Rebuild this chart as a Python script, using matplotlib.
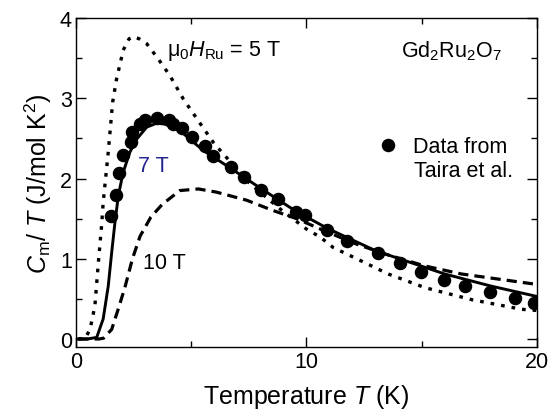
import numpy as np
import matplotlib
matplotlib.use("Agg")
import matplotlib.pyplot as plt
from matplotlib.ticker import MultipleLocator

plt.rcParams["font.family"] = ["Liberation Sans", "DejaVu Sans"]
plt.rcParams["mathtext.fontset"] = "custom"
plt.rcParams["mathtext.rm"] = "Liberation Sans"
plt.rcParams["mathtext.it"] = "Liberation Sans:italic"
plt.rcParams["mathtext.bf"] = "Liberation Sans:bold"

# donnees de Taira et al.
T_data = [1.50, 1.72, 1.86, 2.05, 2.38, 2.42, 2.76, 2.99, 3.50, 4.03, 4.22,
          4.61, 5.02, 5.60, 5.96, 6.72, 7.29, 8.04, 8.78, 9.55, 9.93, 10.88,
          11.74, 13.09, 14.06, 14.97, 15.97, 16.88, 17.96, 19.05, 19.88]
Cm_data = [1.53, 1.80, 2.07, 2.29, 2.45, 2.58, 2.68, 2.73, 2.75, 2.73, 2.68,
           2.63, 2.52, 2.41, 2.28, 2.14, 2.02, 1.86, 1.74, 1.58, 1.54, 1.36,
           1.22, 1.07, 0.95, 0.84, 0.74, 0.66, 0.58, 0.515, 0.45]

# calcul, mu0 H_Ru = 5 T (pointilles)
T_5 = [0.1, 0.4, 0.61, 0.82, 0.97, 1.11, 1.18, 1.40, 1.59, 1.76, 2.05, 2.30,
       2.49, 2.75, 3.07, 3.57, 4.08, 4.66, 5.45, 5.96, 6.32, 7.5, 8.9, 10.0,
       10.6, 11.16, 12.54, 13.55, 15.14, 17.17, 19.34, 20.0]
Cm_5 = [0.0, 0.01, 0.12, 0.41, 0.95, 1.41, 1.70, 2.33, 2.95, 3.24, 3.60, 3.74,
        3.77, 3.74, 3.68, 3.49, 3.28, 2.99, 2.66, 2.45, 2.33, 1.95, 1.61, 1.37,
        1.27, 1.14, 0.95, 0.81, 0.64, 0.49, 0.37, 0.355]

# calcul, 7 T (trait plein)
T_7 = [0.1, 0.5, 0.9, 1.18, 1.40, 1.55, 1.69, 1.84, 2.05, 2.34, 2.63, 3.07,
       3.50, 4.08, 4.66, 5.52, 6.7, 8.0, 9.5, 10.9, 13.0, 16.0, 18.0, 20.0]
Cm_7 = [0.0, 0.0, 0.02, 0.25, 0.66, 1.08, 1.45, 1.79, 2.08, 2.33, 2.49, 2.64,
        2.69, 2.67, 2.56, 2.35, 2.13, 1.88, 1.60, 1.38, 1.10, 0.81, 0.66, 0.53]

# calcul, 10 T (tirets)
T_10 = [0.1, 1.0, 1.2, 1.55, 1.83, 2.12, 2.45, 2.78, 3.25, 3.75, 4.51, 5.31,
        6.1, 7.4, 8.56, 9.57, 10.44, 12.1, 13.4, 15.14, 16.73, 20.0]
Cm_10 = [0.0, 0.0, 0.01, 0.12, 0.37, 0.64, 1.0, 1.28, 1.52, 1.68, 1.85, 1.87,
         1.83, 1.73, 1.60, 1.50, 1.39, 1.19, 1.06, 0.91, 0.81, 0.68]

fig = plt.figure(figsize=(5.49, 4.14), dpi=100)
ax = fig.add_axes([0.1384, 0.1594, 0.8396, 0.7946])

ax.plot(T_5, Cm_5, color="k", lw=2.4, linestyle=(0, (1.1, 2.1)), dash_capstyle="butt")
ax.plot(T_7, Cm_7, color="k", lw=2.1)
ax.plot(T_10, Cm_10, color="k", lw=2.3, linestyle=(0, (3.2, 1.9)))
ax.plot(T_data, Cm_data, "o", color="k", ms=8.7, label="Data from")

ax.set_xlim(0, 20)
ax.set_ylim(-0.1, 4)
ax.xaxis.set_major_locator(MultipleLocator(10))
ax.xaxis.set_minor_locator(MultipleLocator(5))
ax.yaxis.set_major_locator(MultipleLocator(1))
ax.yaxis.set_minor_locator(MultipleLocator(0.5))
ax.tick_params(which="both", direction="in", top=True, right=True, labelsize=15.5, width=1.0)
ax.tick_params(which="major", length=7, pad=3)
ax.tick_params(which="minor", length=4.5)
for s in ax.spines.values():
    s.set_linewidth(1.0)

ax.set_xlabel("Temperature $T$ (K)", fontsize=18, labelpad=7)
ax.set_ylabel("$C_\\mathrm{m}$/ $T$ (J/mol K$^2$)", fontsize=18, labelpad=4)

ax.text(3.95, 3.6, "$\\mathrm{\\mu}_0H_\\mathrm{Ru}$ = 5 T", fontsize=15.5, va="center")
ax.text(14.1, 3.6, "Gd$_2$Ru$_2$O$_7$", fontsize=15.5, va="center")
ax.text(2.69, 2.16, "7 T", fontsize=15.5, va="center", color="#23238e")
ax.text(2.91, 0.95, "10 T", fontsize=15.5, va="center")
ax.text(16.8, 2.10, "Taira et al.", fontsize=15.5, va="center", ha="center")

leg = ax.legend(loc="center left", bbox_to_anchor=(0.645, 0.608), frameon=False,
                fontsize=15.5, handletextpad=0.65, handlelength=1.0, borderpad=0.2,
                borderaxespad=0)

fig.savefig("out.png", dpi=100)
